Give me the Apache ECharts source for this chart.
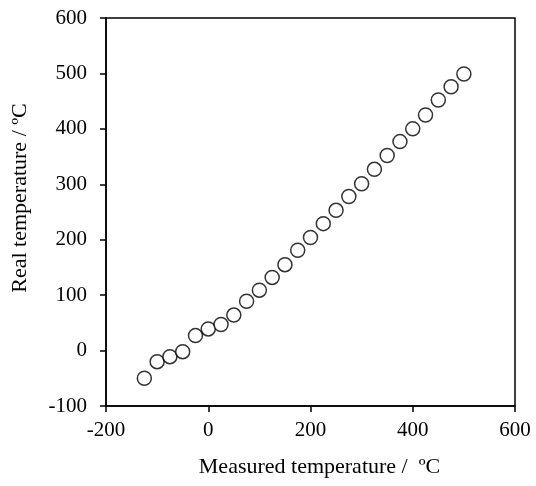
<!DOCTYPE html>
<html>
<head>
<meta charset="utf-8">
<script src="https://cdn.jsdelivr.net/npm/echarts@6/dist/echarts.min.js"></script>
<style>html,body{margin:0;padding:0;background:#fff}#c{width:536px;height:486px}</style>
</head>
<body>
<div id="c"></div>
<script>
const measured = [-125,-100,-75,-50,-25,0,25,50,75,100,125,150,175,200,225,250,275,300,325,350,375,400,425,450,475,500];
const real = [-50,-20,-11,-2,27,39,47,64,89,109,132,155,181,204,229,253,278,301,327,352,377,400,425,452,476,499];
const xTicks = [-200,0,200,400,600];
const yTicks = [-100,0,100,200,300,400,500,600];
const xTitle = 'Measured temperature /  ºC';
const yTitle = 'Real temperature / ºC';

const font = '"Liberation Serif", "Times New Roman", serif';
const chart = echarts.init(document.getElementById('c'), null, {renderer: 'canvas'});
chart.setOption({
  animation: false,
  backgroundColor: '#fff',
  grid: {left: 106, right: 21, top: 18, bottom: 80, show: true, borderColor: '#000', borderWidth: 1.5, backgroundColor: 'transparent'},
  xAxis: {
    type: 'value', min: xTicks[0], max: xTicks[xTicks.length-1], interval: 200,
    name: xTitle, nameLocation: 'middle', nameGap: 50,
    nameTextStyle: {fontFamily: font, fontSize: 22, color: '#000', padding: [0, 0, 0, 18]},
    axisLine: {show: true, onZero: false, lineStyle: {color: '#000', width: 1.5}},
    axisTick: {show: true, inside: false, length: 6, lineStyle: {color: '#000', width: 1.5}},
    axisLabel: {fontFamily: font, fontSize: 21, color: '#000', margin: 14},
    splitLine: {show: false}
  },
  yAxis: {
    type: 'value', min: yTicks[0], max: yTicks[yTicks.length-1], interval: 100,
    name: yTitle, nameLocation: 'middle', nameGap: 75,
    nameTextStyle: {fontFamily: font, fontSize: 22, color: '#000', padding: [0, 0, 0, 28]},
    axisLine: {show: true, onZero: false, lineStyle: {color: '#000', width: 1.5}},
    axisTick: {show: true, inside: false, length: 6, lineStyle: {color: '#000', width: 1.5}},
    axisLabel: {fontFamily: font, fontSize: 21, color: '#000', margin: 19},
    splitLine: {show: false}
  },
  series: [{
    type: 'scatter',
    data: measured.map((m, i) => [m, real[i]]),
    symbol: 'circle', symbolSize: 14,
    itemStyle: {color: '#fff', borderColor: '#000', borderWidth: 1.5}
  }]
});
</script>
</body>
</html>
